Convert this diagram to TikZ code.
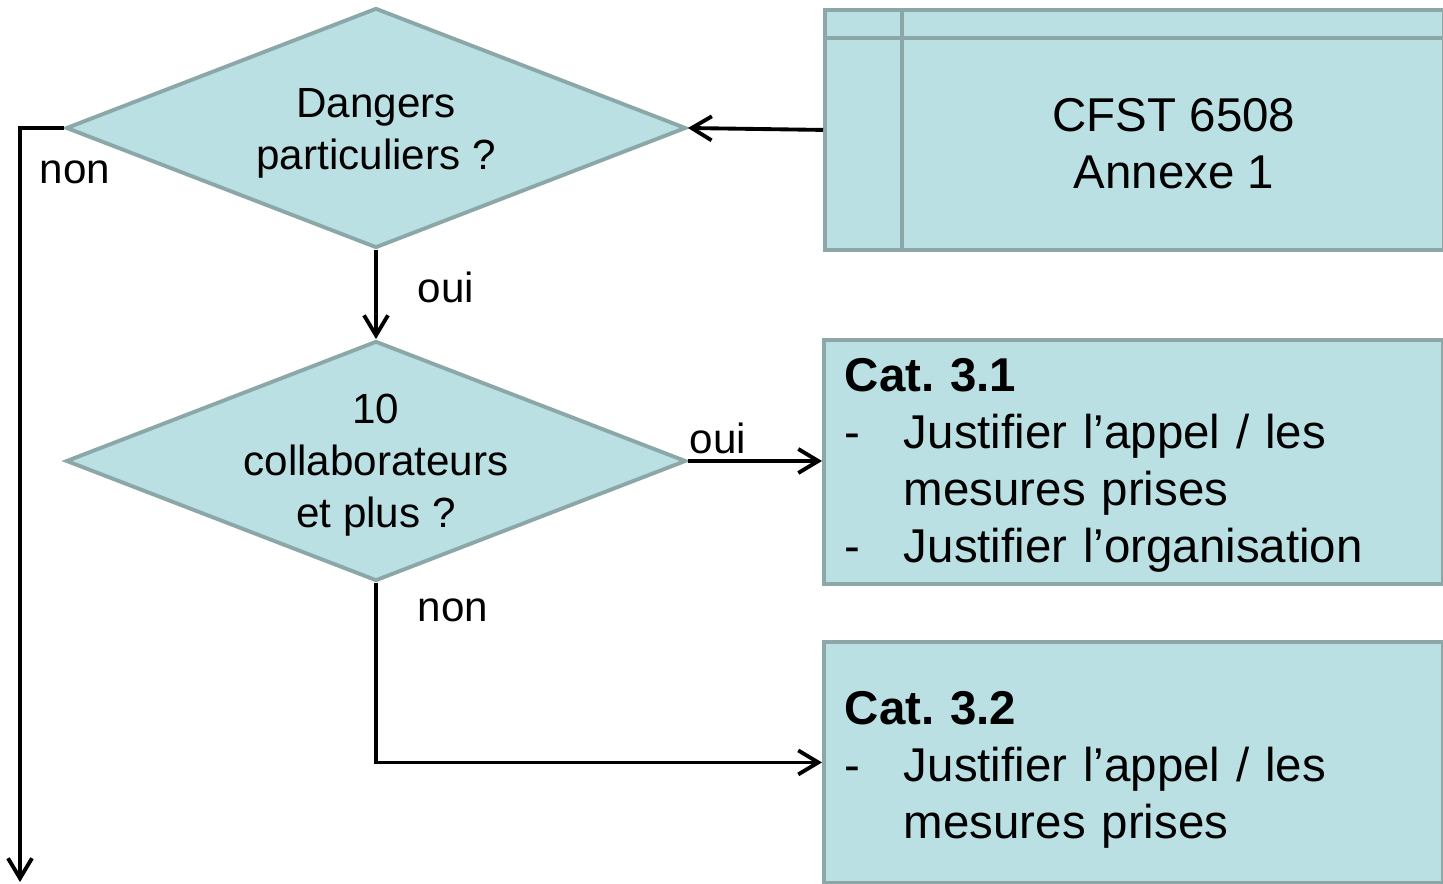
\documentclass[tikz,border=0pt]{standalone}
\usepackage{fontspec}
\setmainfont{Liberation Sans}
\usetikzlibrary{arrows.meta,shapes.geometric}
\definecolor{boxfill}{RGB}{186,224,227}
\definecolor{boxline}{RGB}{139,167,168}
\frenchspacing

\begin{document}
\begin{tikzpicture}[line width=1.1pt,>={Straight Barb[length=2mm,width=2.4mm]},
  decision/.style={diamond,draw=boxline,fill=boxfill,line width=1.1pt,inner sep=0pt,minimum width=6.2cm,minimum height=2.4cm},
  dtext/.style={font=\fontsize{12}{14.8}\selectfont,align=center,inner sep=0pt},
  catbox/.style={draw=boxline,fill=boxfill,line width=1.1pt,anchor=north west,inner xsep=0.21cm,inner ysep=0pt,text width=5.77cm,align=left,font=\fontsize{13.5}{16.2}\selectfont},
  lbl/.style={font=\fontsize{12}{14.8}\selectfont,inner sep=0pt}]
  \useasboundingbox (0,0) rectangle (14.43,-8.84);
  % losanges
  \node[decision] (dangers) at (3.76,-1.28) {};
  \node[dtext] (dangerstxt) at ([yshift=-0.05cm]dangers.center) {Dangers\\particuliers ?};
  \node[decision] (collab) at (3.76,-4.61) {};
  \node[dtext] (collabtxt) at ([yshift=-0.04cm]collab.center) {10\\collaborateurs\\et plus ?};
  % encadres
  \node[catbox,minimum height=2.40cm] (cfst) at (8.23,-0.08) {};
  \draw[boxline,line width=1.1pt] ([xshift=0.79cm]cfst.north west) -- ([xshift=0.79cm]cfst.south west);
  \draw[boxline,line width=1.1pt] ([yshift=-0.30cm]cfst.north west) -- ([yshift=-0.30cm]cfst.north east);
  \node[dtext,font=\fontsize{13.5}{16.2}\selectfont] (cfsttxt) at (11.74,-1.435) {CFST 6508\\Annexe 1};
  \node[catbox,minimum height=2.44cm] (cat1) at (8.22,-3.38) {\raisebox{-0.04cm}[\height][\depth]{\begin{tabular}{@{}p{0.59cm}@{}l@{}}
    \multicolumn{2}{@{}l}{\textbf{Cat. 3.1}}\\
    - & Justifier l’appel / les\\
      & mesures prises\\
    - & Justifier l’organisation
  \end{tabular}}};
  \node[catbox,minimum height=2.41cm] (cat2) at (8.22,-6.40) {\raisebox{-0.08cm}[\height][\depth]{\begin{tabular}{@{}p{0.59cm}@{}l@{}}
    \multicolumn{2}{@{}l}{\textbf{Cat. 3.2}}\\
    - & Justifier l’appel / les\\
      & mesures prises
  \end{tabular}}};
  % fleches
  \coordinate (fin) at (0.20,-8.82);
  \draw[->] (cfst.west) -- (dangers.east);
  \draw[->] (dangers.south) -- (collab.north);
  \draw[->] (dangers.west) -| (fin);
  \draw[->] (collab.east) -- (collab.east -| cat1.west);
  \draw[->] (collab.south) |- (cat2.west);
  % etiquettes
  \node[lbl] (ouia) at (4.46,-2.87) {oui};
  \node[lbl] (nona) at (0.75,-1.72) {non};
  \node[lbl] (ouib) at (7.18,-4.38) {oui};
  \node[lbl] (nonb) at (4.53,-6.10) {non};
\end{tikzpicture}
\end{document}
